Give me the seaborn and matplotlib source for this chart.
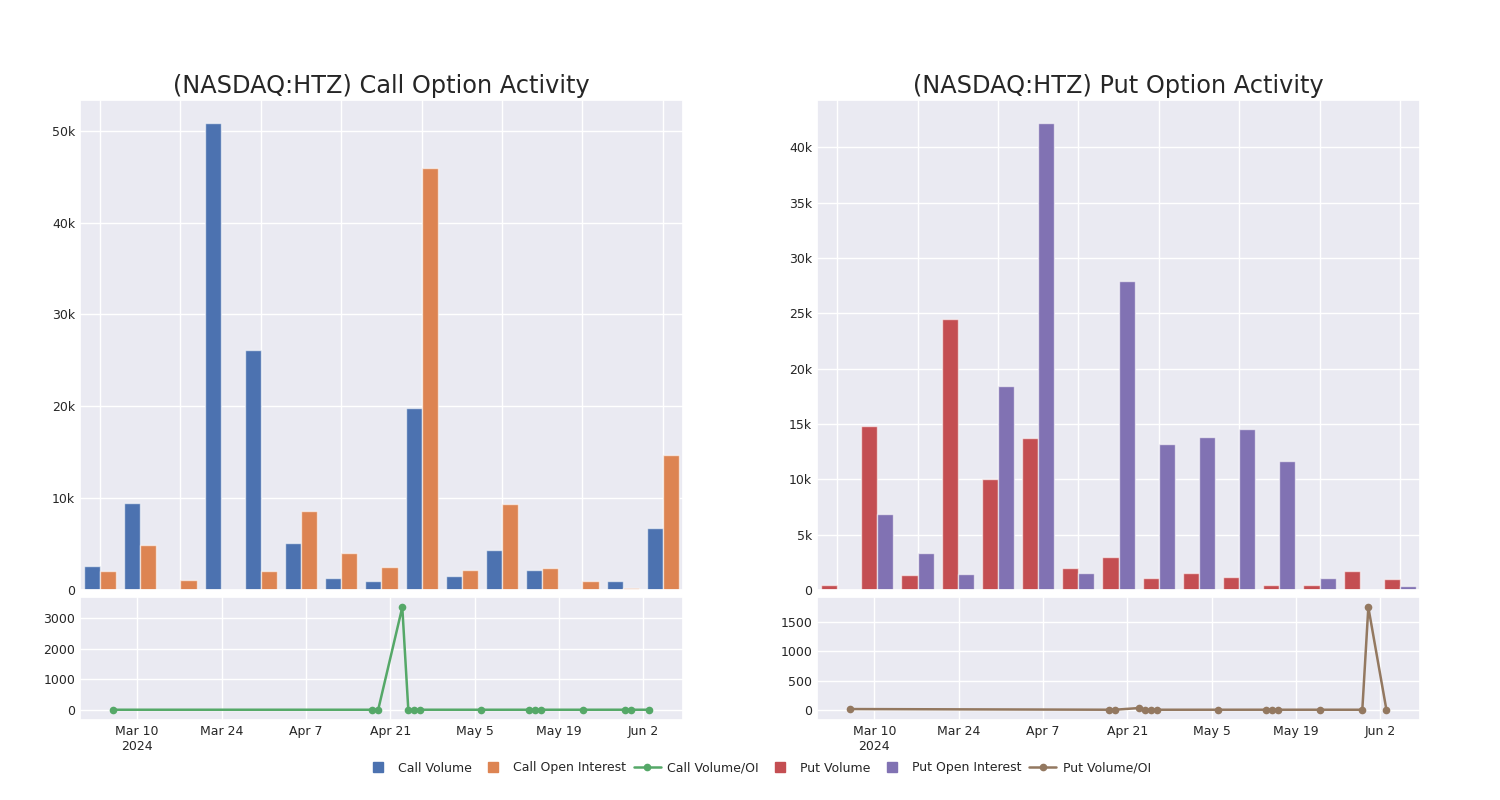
import pandas as pd
import numpy as np
import matplotlib
matplotlib.use('Agg')
import matplotlib.pyplot as plt
from matplotlib.lines import Line2D
from matplotlib.ticker import FuncFormatter, MultipleLocator
import seaborn as sns

# Weekly bar data (15 weeks)
weeks = list(range(15))
call_volume = [2620, 9450, 0, 50800, 26160, 5160, 1270, 940, 19800, 1530, 4360, 2140, 0, 940, 6760]
call_oi = [2030, 4900, 1050, 0, 2100, 8580, 4070, 2500, 45930, 2180, 9410, 2430, 940, 220, 14720]
put_volume = [420, 14800, 1330, 24460, 10050, 13760, 1990, 2960, 1090, 1570, 1150, 420, 450, 1690, 1000]
put_oi = [30, 6880, 3350, 1420, 18430, 42170, 1540, 27960, 13180, 13820, 14570, 11640, 1090, 0, 360]

# Daily volume / open interest ratio
ratio_dates = ['2024-03-06', '2024-04-18', '2024-04-19', '2024-04-23', '2024-04-24',
               '2024-04-25', '2024-04-26', '2024-05-06', '2024-05-14', '2024-05-15',
               '2024-05-16', '2024-05-23', '2024-05-30', '2024-05-31', '2024-06-03']
call_ratio = [0.4, 0.6, 1.1, 3360, 0.3, 0.5, 0.8, 0.2, 0.4, 0.7, 0.3, 0.5, 0.9, 0.6, 0.4]
put_ratio = [12, 0.5, 0.8, 30, 0.4, 0.6, 0.3, 0.5, 0.7, 0.2, 0.4, 0.6, 0.3, 1756, 0.5]

tick_dates = ['2024-03-10', '2024-03-24', '2024-04-07', '2024-04-21', '2024-05-05', '2024-05-19', '2024-06-02']
tick_labels = ['Mar 10\n2024', 'Mar 24', 'Apr 7', 'Apr 21', 'May 5', 'May 19', 'Jun 2']

blue, orange, green, red, purple, brown = '#4C72B0', '#DD8452', '#55A868', '#C44E52', '#8172B3', '#937860'

sns.set_theme(style='darkgrid')
plt.rcParams['font.family'] = ['DejaVu Sans']

fig = plt.figure(figsize=(15, 8), dpi=100)

kfmt = FuncFormatter(lambda v, p: '0' if v == 0 else f'{int(round(v / 1000))}k')


def draw_panel(left, title, vol, oi, ratio, c1, c2, c3, n1, n2, step):
    ax_bar = fig.add_axes([left, 0.2625, 0.402, 0.6125])
    ax_line = fig.add_axes([left, 0.1, 0.402, 0.15375])

    df = pd.DataFrame({'week': weeks * 2,
                       'value': vol + oi,
                       'kind': [n1] * len(weeks) + [n2] * len(weeks)})
    sns.barplot(data=df, x='week', y='value', hue='kind', palette=[c1, c2],
                ax=ax_bar, legend=False, saturation=1,
                edgecolor=(1, 1, 1, 0.6), linewidth=1)
    ax_bar.set_xticks(range(0, 15, 2))
    ax_bar.set_xticklabels([])
    ax_bar.set_xlim(-0.5, 14.5)
    ax_bar.grid(True, axis='both')
    ax_bar.tick_params(axis='both', length=0, labelsize=9)
    ax_bar.yaxis.set_major_formatter(kfmt)
    ax_bar.set_xlabel('')
    ax_bar.set_ylabel('')
    ax_bar.set_title(title, fontsize=17.3, pad=5)

    ldf = pd.DataFrame({'date': pd.to_datetime(ratio_dates), 'ratio': ratio})
    sns.lineplot(data=ldf, x='date', y='ratio', ax=ax_line, color=c3,
                 marker='o', markersize=5.5, markeredgewidth=0, linewidth=1.8)
    ax_line.margins(y=0.1)
    ax_line.yaxis.set_major_locator(MultipleLocator(step))
    ax_line.set_xlim(pd.Timestamp('2024-02-29 12:00'), pd.Timestamp('2024-06-08 14:00'))
    ax_line.set_xticks(pd.to_datetime(tick_dates))
    ax_line.set_xticklabels(tick_labels)
    ax_line.tick_params(axis='both', length=0, labelsize=9)
    ax_line.set_xlabel('')
    ax_line.set_ylabel('')
    return ax_bar, ax_line


draw_panel(0.0533, '(NASDAQ:HTZ) Call Option Activity', call_volume, call_oi, call_ratio,
           blue, orange, green, 'Call Volume', 'Call Open Interest', 1000)
draw_panel(0.5447, '(NASDAQ:HTZ) Put Option Activity', put_volume, put_oi, put_ratio,
           red, purple, brown, 'Put Volume', 'Put Open Interest', 500)

handles = [
    Line2D([], [], color=blue, marker='s', linestyle='none', markersize=7.5),
    Line2D([], [], color=orange, marker='s', linestyle='none', markersize=7.5),
    Line2D([], [], color=green, marker='o', markersize=4.5, linewidth=1.8),
    Line2D([], [], color=red, marker='s', linestyle='none', markersize=7.5),
    Line2D([], [], color=purple, marker='s', linestyle='none', markersize=7.5),
    Line2D([], [], color=brown, marker='o', markersize=4.5, linewidth=1.8),
]
labels = ['Call Volume', 'Call Open Interest', 'Call Volume/OI',
          'Put Volume', 'Put Open Interest', 'Put Volume/OI']
fig.legend(handles, labels, loc='center', bbox_to_anchor=(0.505, 0.04), ncol=6,
           frameon=False, fontsize=9, handlelength=2.2, columnspacing=0.6, handletextpad=0.5)

plt.savefig('out.png', dpi=100)
